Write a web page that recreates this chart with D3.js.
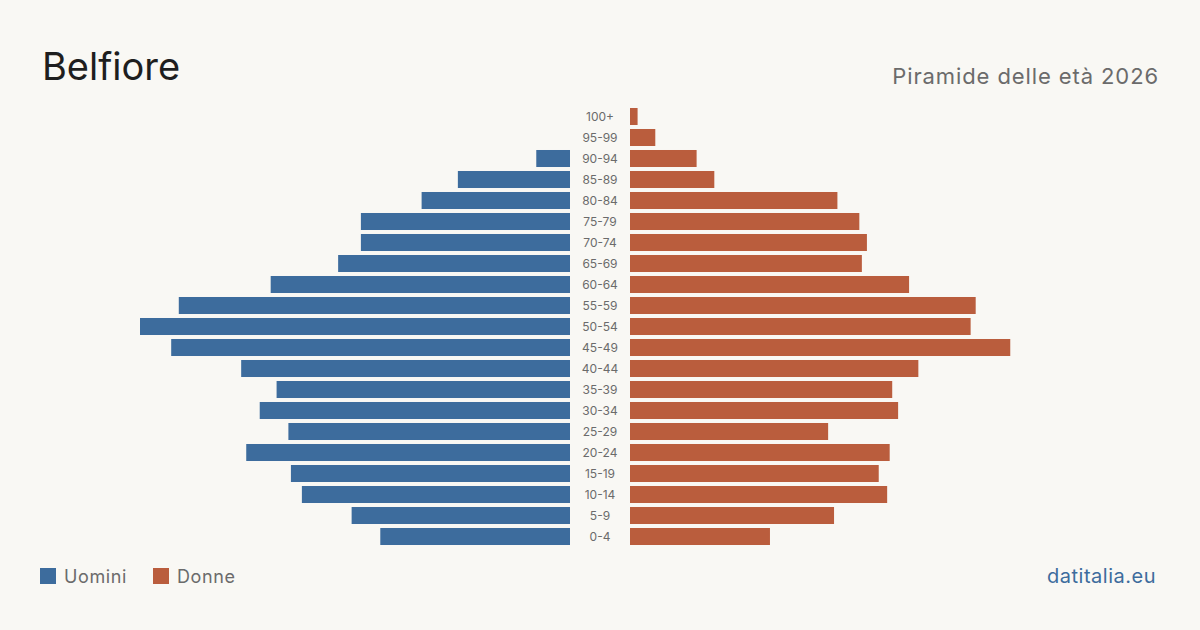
<!DOCTYPE html>
<html>
<head>
<meta charset="utf-8">
<script src="https://cdn.jsdelivr.net/npm/d3@7"></script>
<style>
  body { margin:0; background:#f9f8f4; }
  svg { display:block; font-family: Inter, "Noto Sans", sans-serif; }
</style>
</head>
<body>
<svg id="chart"></svg>
<script>
// age classes, top to bottom
var ages = ["100+","95-99","90-94","85-89","80-84","75-79","70-74","65-69","60-64","55-59",
            "50-54","45-49","40-44","35-39","30-34","25-29","20-24","15-19","10-14","5-9","0-4"]
var uomini = [0,0,4,13.3,17.6,24.8,24.8,27.5,35.5,46.4,51,47.3,39,34.8,36.8,33.4,38.4,33.1,31.8,25.9,22.5]
var donne = [0.9,3,7.9,10,24.6,27.2,28.1,27.5,33.1,41,40.4,45.1,34.2,31.1,31.8,23.5,30.8,29.5,30.5,24.2,16.6]
var legendLabels = ["Uomini","Donne"]

var screen = {width:1200, height:630}
var colBlue = "#3d6c9d", colRed = "#ba5d3d"
var center = {left:570, right:630}

var svg = d3.select("#chart")
  .attr("width", screen.width)
  .attr("height", screen.height)

svg.append("rect")
  .attr("width", screen.width).attr("height", screen.height)
  .attr("fill", "#f9f8f4")

var xScale = d3.scaleLinear()
  .domain([0, d3.max(uomini)])
  .range([0, 430])

var yScale = d3.scaleBand()
  .domain(ages)
  .range([106, 547])
  .paddingInner(0.19)
  .paddingOuter(0.095)

var rows = ages.map(function(a, i) { return {age:a, m:uomini[i], f:donne[i]} })

svg.append("g").selectAll("rect")
  .data(rows)
  .enter()
  .append("rect")
  .attr("x", function(d) { return center.left - xScale(d.m) })
  .attr("y", function(d) { return yScale(d.age) })
  .attr("width", function(d) { return xScale(d.m) })
  .attr("height", yScale.bandwidth())
  .attr("fill", colBlue)

svg.append("g").selectAll("rect")
  .data(rows)
  .enter()
  .append("rect")
  .attr("x", center.right)
  .attr("y", function(d) { return yScale(d.age) })
  .attr("width", function(d) { return xScale(d.f) })
  .attr("height", yScale.bandwidth())
  .attr("fill", colRed)

svg.append("g").selectAll("text")
  .data(ages)
  .enter()
  .append("text")
  .text(function(d) { return d })
  .attr("x", (center.left + center.right) / 2)
  .attr("y", function(d) { return yScale(d) + yScale.bandwidth() / 2 + 4 })
  .attr("text-anchor", "middle")
  .attr("font-size", 12)
  .attr("fill", "#6b6b6b")

// titles
svg.append("text")
  .text("Belfiore")
  .attr("x", 42).attr("y", 80)
  .attr("font-size", 38)
  .attr("fill", "#1e1e1e")

svg.append("text")
  .text("Piramide delle età 2026")
  .attr("x", 1159).attr("y", 84)
  .attr("text-anchor", "end")
  .attr("font-size", 22)
  .attr("letter-spacing", 0.9)
  .attr("fill", "#6b6b6b")

// legend
var legend = svg.append("g")
var legX = [40, 153]
legendLabels.forEach(function(l, i) {
  legend.append("rect")
    .attr("x", legX[i]).attr("y", 568)
    .attr("width", 16).attr("height", 16)
    .attr("fill", i == 0 ? colBlue : colRed)
  legend.append("text")
    .text(l)
    .attr("x", legX[i] + 24).attr("y", 583)
    .attr("font-size", 18)
    .attr("letter-spacing", 0.6)
    .attr("fill", "#6b6b6b")
})

svg.append("text")
  .text("datitalia.eu")
  .attr("x", 1156).attr("y", 583)
  .attr("text-anchor", "end")
  .attr("font-size", 20)
  .attr("letter-spacing", 0.5)
  .attr("fill", "#3d6c9d")
</script>
</body>
</html>
